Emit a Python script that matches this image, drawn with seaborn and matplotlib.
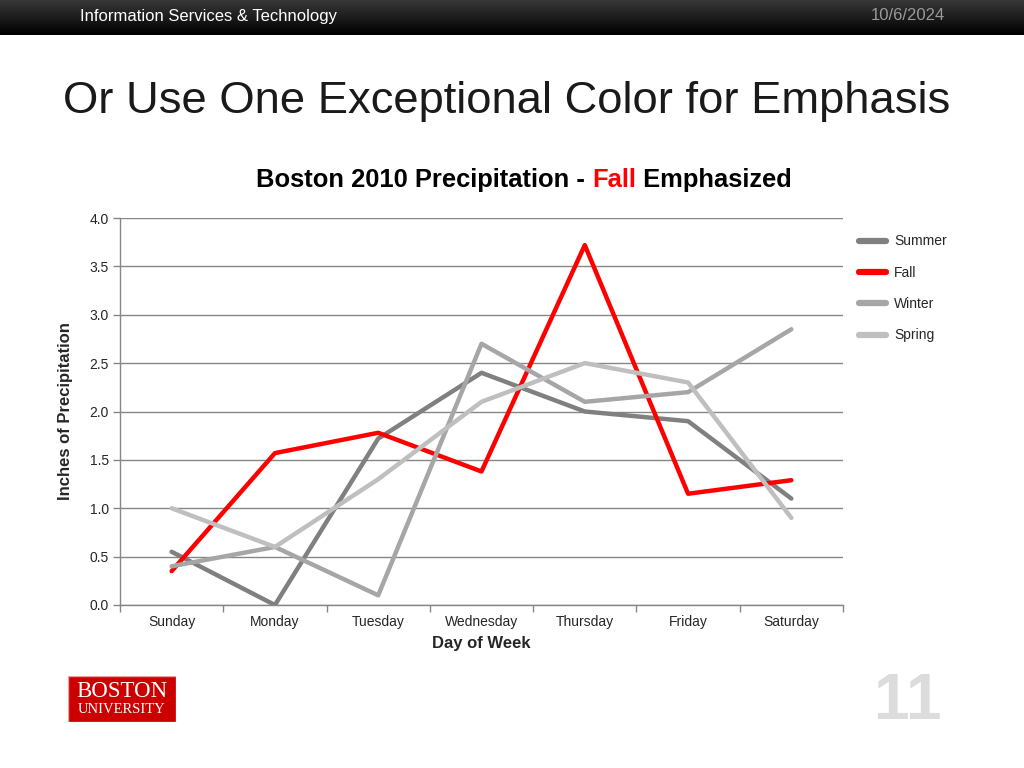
import numpy as np
import pandas as pd
import matplotlib
matplotlib.use("Agg")
import matplotlib.pyplot as plt
from matplotlib.patches import Rectangle
from matplotlib.lines import Line2D
import seaborn as sns

days = ["Sunday", "Monday", "Tuesday", "Wednesday", "Thursday", "Friday", "Saturday"]
summer = [0.55, 0.0, 1.72, 2.40, 2.00, 1.90, 1.10]
fall = [0.35, 1.57, 1.78, 1.38, 3.72, 1.15, 1.29]
winter = [0.40, 0.60, 0.10, 2.70, 2.10, 2.20, 2.85]
spring = [1.00, 0.60, 1.30, 2.10, 2.50, 2.30, 0.90]
seasons = ["Summer", "Fall", "Winter", "Spring"]
colors = {"Summer": "#808080", "Fall": "#FF0000", "Winter": "#A6A6A6", "Spring": "#BFBFBF"}

rows = []
for name, vals in zip(seasons, [summer, fall, winter, spring]):
    for i, (d, v) in enumerate(zip(days, vals)):
        rows.append({"day": d, "x": i, "season": name, "value": v})
df = pd.DataFrame(rows)

sns.set_theme(style="white")
plt.rcParams['font.family'] = ['Liberation Sans', 'DejaVu Sans']

fig = plt.figure(figsize=(10.24, 7.68), dpi=100)
fig.patch.set_facecolor("white")

# header bar with gradient
hdr = fig.add_axes([0, 1 - 35 / 768, 1, 35 / 768])
grad = np.linspace(0.22, 0.0, 50).reshape(-1, 1)
hdr.imshow(np.dstack([grad, grad, grad]), aspect="auto", extent=[0, 1, 0, 1])
hdr.set_axis_off()
fig.text(80 / 1024, 1 - 16 / 768, "Information Services & Technology", color="white",
         fontsize=12, va="center", ha="left")
fig.text(945 / 1024, 1 - 16 / 768, "10/6/2024", color="#9a9a9a",
         fontsize=12, va="center", ha="right")

# slide title
fig.text(63 / 1024, 1 - 101 / 768, "Or Use One Exceptional Color for Emphasis",
         fontsize=32.7, color="#1a1a1a", va="center", ha="left")

ax = fig.add_axes([120 / 1024, 1 - 605 / 768, 723 / 1024, 387 / 768])
sns.lineplot(data=df, x="x", y="value", hue="season", hue_order=seasons,
             palette=colors, linewidth=3.2, ax=ax, legend=False, sort=False)
ax.set_xlim(-0.5, 6.5)
ax.set_ylim(0, 4.0)
ax.set_yticks(np.arange(0, 4.01, 0.5))
ax.set_yticklabels([f"{v:.1f}" for v in np.arange(0, 4.01, 0.5)], fontsize=10)
ax.set_xticks(range(7))
ax.set_xticklabels(days, fontsize=10)
ax.set_xticks(np.arange(-0.5, 7, 1), minor=True)
ax.tick_params(axis="x", which="major", length=0, pad=7.5)
ax.tick_params(axis="x", which="minor", length=5, color="#868686", width=1, direction="out", bottom=True)
ax.tick_params(axis="y", length=5, color="#868686", width=1, direction="out", left=True, pad=3)
ax.grid(axis="y", color="#868686", linewidth=1)
ax.grid(axis="x", visible=False)
ax.set_axisbelow(True)
for s in ["top", "right"]:
    ax.spines[s].set_visible(False)
for s in ["left", "bottom"]:
    ax.spines[s].set_color("#868686")
    ax.spines[s].set_linewidth(1)
ax.set_xlabel("Day of Week", fontsize=12, fontweight="bold", labelpad=5)
ax.set_ylabel("Inches of Precipitation", fontsize=12, fontweight="bold", labelpad=12)

# legend
handles = [Line2D([0], [0], color=colors[s], linewidth=4.5, solid_capstyle="round") for s in seasons]
leg = ax.legend(handles, seasons, loc="upper left", bbox_to_anchor=(1.005, 0.99),
                frameon=False, fontsize=10, handlelength=1.9, labelspacing=1.25,
                handletextpad=0.6)

# chart title in pieces
ty = 1 - 180 / 768
fs = 18.4
t1 = fig.text(256 / 1024, ty, "Boston 2010 Precipitation - ", fontsize=fs, fontweight="bold",
              color="black", va="center", ha="left")
fig.canvas.draw()
r = fig.canvas.get_renderer()
bb = t1.get_window_extent(r)
x2 = bb.x1 / fig.bbox.width
t2 = fig.text(x2, ty, "Fall", fontsize=fs, fontweight="bold", color="#FF0000", va="center", ha="left")
bb2 = t2.get_window_extent(r)
x3 = bb2.x1 / fig.bbox.width
fig.text(x3, ty, " Emphasized", fontsize=fs, fontweight="bold", color="black", va="center", ha="left")

# BU logo
logo = fig.add_axes([68 / 1024, 1 - 722 / 768, 108 / 1024, 46 / 768])
logo.add_patch(Rectangle((0, 0), 1, 1, facecolor="#CC0000", edgecolor="#e8a0a0", linewidth=1))
logo.text(0.5, 0.66, "BOSTON", color="white", fontsize=16.5, ha="center", va="center",
          family=["Liberation Serif", "DejaVu Serif"])
logo.text(0.5, 0.28, "UNIVERSITY", color="white", fontsize=10.5, ha="center", va="center",
          family=["Liberation Serif", "DejaVu Serif"])
logo.set_xlim(0, 1)
logo.set_ylim(0, 1)
logo.set_axis_off()

# page number
fig.text(908 / 1024, 1 - 702 / 768, "11", fontsize=46, fontweight="bold", color="#DCDCDC",
         ha="center", va="center")

fig.savefig("out.png", dpi=100)
